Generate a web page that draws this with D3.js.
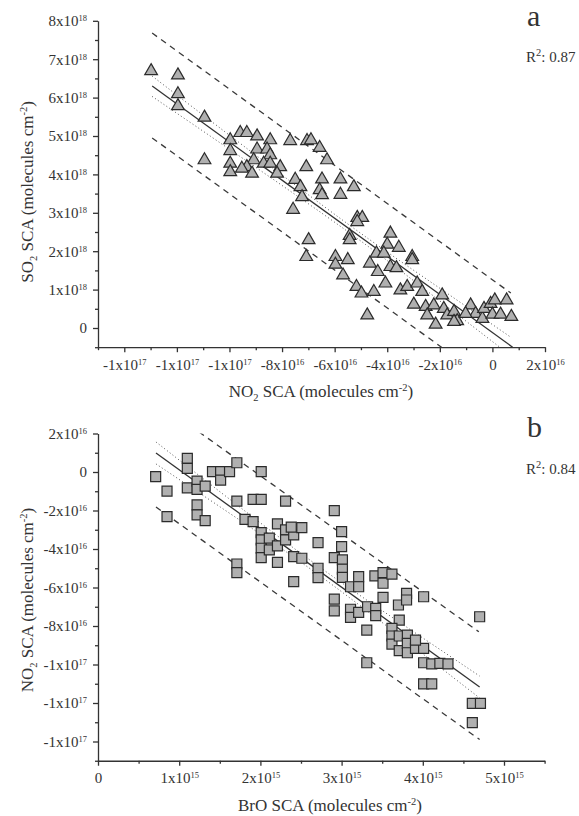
<!DOCTYPE html>
<html>
<head>
<meta charset="utf-8">
<script src="https://cdn.jsdelivr.net/npm/d3@7"></script>
<style>
  body { margin: 0; background: #fff; }
  svg { display: block; }
</style>
</head>
<body>
<svg id="chart"></svg>
<script>
// === SO2 / NO2 / BrO SCA scatter panels ===

const W = 579, H = 816;
const FONT = "'Liberation Serif', 'Times New Roman', serif";
const INK = "#333";

// --- Panel a: NO2 SCA (x, units 1e16) vs SO2 SCA (y, units 1e18) ---
const aNO2 = [
  -12.98, -11.96, -11.96, -11.96, -10.95, -10.95, -9.97, -9.97, -9.97, -9.97,
  -9.59, -9.34, -8.95, -8.45, -8.95, -8.57, -8.45, -9.08, -9.34, -9.53,
  -9.14, -8.70, -8.45, -8.07, -8.19, -7.69, -7.50, -7.30, -7.24, -7.58,
  -7.05, -7.08, -6.90, -6.57, -6.29, -6.48, -5.78, -5.27, -6.57, -6.48,
  -5.78, -5.14, -4.95, -5.14, -5.43, -5.43, -6.99, -7.08, -5.97, -5.97,
  -5.50, -5.68, -5.17, -4.98, -4.51, -4.76, -3.88, -4.00, -3.56, -4.41,
  -4.13, -4.66, -3.88, -3.65, -4.36, -3.05, -3.05, -4.07, -3.50, -3.24,
  -2.86, -2.67, -2.99, -2.54, -2.23, -1.91, -2.48, -2.16, -1.85, -1.72,
  -1.46, -1.34, -1.46, -0.83, -0.64, -0.38, -0.32, -0.07, 0.09, 0.00,
  0.31, 0.54, 0.72, -1.02
];
const aSO2 = [
  6.74, 6.63, 6.14, 5.83, 5.53, 4.42, 4.94, 4.66, 4.33, 4.11,
  5.13, 5.13, 5.04, 4.94, 4.70, 4.70, 4.55, 4.42, 4.24, 4.20,
  4.07, 4.33, 4.33, 4.24, 4.07, 4.92, 3.91, 3.72, 3.46, 3.13,
  4.92, 4.24, 4.94, 4.74, 4.42, 3.92, 3.92, 3.72, 3.64, 3.51,
  3.52, 2.92, 2.92, 2.81, 2.45, 2.34, 2.34, 1.90, 1.90, 1.70,
  1.82, 1.42, 1.12, 0.95, 0.99, 0.38, 2.51, 2.22, 2.14, 1.99,
  1.99, 1.73, 1.64, 1.61, 1.51, 1.90, 1.82, 1.21, 1.03, 1.12,
  1.21, 0.99, 0.66, 0.60, 0.64, 0.90, 0.38, 0.14, 0.55, 0.38,
  0.47, 0.23, 0.21, 0.64, 0.42, 0.29, 0.55, 0.68, 0.77, 0.40,
  0.40, 0.77, 0.34, 0.42
];
// fit line, 95% confidence (dotted) and prediction (dashed) bands, same units
const aFit = [[-12.94, 6.30], [0.77, -0.50]];
const aConfUpper = [[-12.94, 6.56], [-9.5, 4.76], [-5.5, 2.71], [-2.5, 1.27], [0.70, -0.24]];
const aConfLower = [[-12.94, 6.03], [-9.5, 4.42], [-5.5, 2.51], [-2.5, 0.97], [0.77, -0.76]];
const aPredUpper = [[-12.94, 7.68], [0.70, 0.91]];
const aPredLower = [[-12.94, 4.95], [-1.9, -0.52]];

const aXTicks = [-1.4e17, -1.2e17, -1e17, -8e16, -6e16, -4e16, -2e16, 0, 2e16];
const aXTickLabels = ["-1x10^17", "-1x10^17", "-1x10^17", "-8x10^16", "-6x10^16",
                      "-4x10^16", "-2x10^16", "0", "2x10^16"];
const aYTicks = [0, 1e18, 2e18, 3e18, 4e18, 5e18, 6e18, 7e18, 8e18];
const aYTickLabels = ["0", "1x10^18", "2x10^18", "3x10^18", "4x10^18",
                      "5x10^18", "6x10^18", "7x10^18", "8x10^18"];

// --- Panel b: BrO SCA (x, units 1e15) vs NO2 SCA (y, units 1e16) ---
const bBrO = [
  0.71, 0.85, 0.85, 1.10, 1.10, 1.10, 1.22, 1.22, 1.32, 1.22,
  1.22, 1.32, 1.41, 1.51, 1.51, 1.62, 1.71, 2.01, 1.71, 1.91,
  2.01, 2.31, 1.81, 1.91, 1.71, 1.71, 2.01, 2.01, 2.01, 2.01,
  2.11, 2.11, 2.21, 2.21, 2.21, 2.31, 2.31, 2.41, 2.41, 2.41,
  2.91, 2.51, 3.00, 2.71, 3.00, 2.91, 3.01, 3.01, 3.01, 2.71,
  2.71, 2.51, 3.11, 3.21, 3.21, 2.91, 2.91, 3.11, 3.11, 3.21,
  3.32, 3.42, 3.42, 3.31, 3.31, 3.41, 3.51, 3.51, 3.62, 3.51,
  3.70, 3.80, 3.80, 4.01, 4.70, 3.71, 3.62, 3.62, 3.62, 3.71,
  3.71, 3.81, 3.81, 3.81, 3.91, 4.01, 4.01, 4.11, 4.21, 4.31,
  4.01, 4.11, 4.61, 4.71, 4.61, 2.38, 3.91
];
const bNO2 = [
  -0.24, -0.99, -2.32, 0.71, 0.19, -0.82, -0.47, -0.90, -0.73, -1.71,
  -2.23, -2.53, 0.02, 0.02, -0.42, 0.02, 0.48, 0.02, -1.51, -1.42,
  -1.42, -1.51, -2.46, -2.58, -4.78, -5.23, -3.15, -3.53, -3.96, -4.45,
  -3.44, -4.05, -2.70, -3.84, -4.69, -3.01, -3.53, -3.27, -4.40, -5.70,
  -2.01, -2.89, -3.10, -3.67, -3.88, -4.45, -4.57, -5.05, -5.47, -5.00,
  -5.49, -4.48, -5.96, -5.44, -5.96, -6.60, -7.21, -7.13, -7.55, -7.29,
  -7.00, -7.08, -7.46, -8.21, -9.91, -5.40, -5.23, -5.78, -5.30, -6.51,
  -6.91, -6.30, -6.65, -6.48, -7.52, -7.69, -8.12, -8.52, -8.94, -8.52,
  -9.28, -8.47, -8.90, -9.39, -9.16, -9.16, -9.91, -9.97, -9.94, -9.97,
  -11.01, -11.01, -12.02, -12.02, -13.02, -2.86, -8.73
];
const bFit = [[0.714, 0.99], [4.70, -11.17]];
const bConfUpper = [[0.714, 1.56], [1.7, -1.67], [2.7, -4.85], [3.7, -7.77], [4.70, -10.6]];
const bConfLower = [[0.714, 0.42], [1.7, -2.37], [2.7, -5.29], [3.7, -8.47], [4.70, -11.74]];
const bPredUpper = [[1.244, 2.08], [4.69, -8.3]];
const bPredLower = [[0.714, -1.82], [4.70, -13.9]];

const bXTicks = [0, 1e15, 2e15, 3e15, 4e15, 5e15];
const bXTickLabels = ["0", "1x10^15", "2x10^15", "3x10^15", "4x10^15", "5x10^15"];
const bYTicks = [2e16, 0, -2e16, -4e16, -6e16, -8e16, -1e17, -1.2e17, -1.4e17];
const bYTickLabels = ["2x10^16", "0", "-2x10^16", "-4x10^16", "-6x10^16",
                      "-8x10^16", "-1x10^17", "-1x10^17", "-1x10^17"];

// --- helpers ---
const svg = d3.select("#chart").attr("width", W).attr("height", H)
  .style("font-family", FONT);
svg.append("rect").attr("width", W).attr("height", H).attr("fill", "#fff");
const defs = svg.append("defs");

// "8x10^18" -> "8x10" + superscript "18"
function sciLabel(textSel) {
  textSel.each(function() {
    const t = d3.select(this);
    const s = t.text();
    t.text(null);
    const parts = s.split("^");
    t.append("tspan").text(parts[0]);
    if (parts[1]) {
      t.append("tspan").attr("font-size", 8.5).attr("dy", "-5").text(parts[1]);
    }
  });
}

// parts: [text, "sub"|"sup"|undefined]
function richText(textSel, parts) {
  let shift = 0;
  parts.forEach(([txt, kind]) => {
    const target = kind === "sub" ? 4 : kind === "sup" ? -6 : 0;
    const ts = textSel.append("tspan").attr("dy", target - shift).text(txt);
    if (kind) ts.attr("font-size", 10.5);
    shift = target;
  });
}

function drawPanel(p) {
  const x = d3.scaleLinear().domain(p.xDomain).range([p.left, p.right]);
  const y = d3.scaleLinear().domain(p.yDomain).range([p.bottom, p.top]);
  const g = svg.append("g");

  const clipId = "clip-" + p.name;
  defs.append("clipPath").attr("id", clipId).append("rect")
    .attr("x", p.left).attr("y", p.top)
    .attr("width", p.right - p.left).attr("height", p.bottom - p.top);

  const line = d3.line()
    .x(d => x(d[0] * p.xUnit))
    .y(d => y(d[1] * p.yUnit));
  const curved = d3.line()
    .x(d => x(d[0] * p.xUnit))
    .y(d => y(d[1] * p.yUnit))
    .curve(d3.curveNatural);

  const lines = g.append("g").attr("clip-path", `url(#${clipId})`).attr("fill", "none");
  [p.predUpper, p.predLower].forEach(band => {
    lines.append("path").datum(band).attr("d", line)
      .attr("stroke", "#3a3a3a").attr("stroke-width", 1.3).attr("stroke-dasharray", "6,5");
  });
  [p.confUpper, p.confLower].forEach(band => {
    lines.append("path").datum(band).attr("d", curved)
      .attr("stroke", "#555").attr("stroke-width", 1).attr("stroke-dasharray", "1,2.5");
  });
  lines.append("path").datum(p.fit).attr("d", line)
    .attr("stroke", "#333").attr("stroke-width", 1.3);

  // points (triangles drawn about their centroid; nudge so the box centre sits on the value)
  const sym = d3.symbol().type(p.symbol).size(p.symbolSize);
  g.append("g").selectAll("path")
    .data(p.xs.map((v, i) => [v, p.ys[i]]))
    .join("path")
    .attr("transform", d => `translate(${x(d[0] * p.xUnit)},${y(d[1] * p.yUnit) + p.symbolDy})`)
    .attr("d", sym)
    .attr("fill", "#b0b0b0")
    .attr("stroke", "#2b2b2b")
    .attr("stroke-width", 1.2);

  // axes: major with labels, minor without
  const xAxis = g.append("g").attr("transform", `translate(0,${p.bottom})`)
    .call(d3.axisBottom(x).tickValues(p.xTicks).tickSize(5).tickSizeOuter(0)
      .tickPadding(7).tickFormat((d, i) => p.xLabels[i]));
  g.append("g").attr("transform", `translate(0,${p.bottom})`)
    .call(d3.axisBottom(x).tickValues(p.xMinor).tickSize(3).tickFormat(""))
    .call(s => s.select(".domain").remove());
  const yAxis = g.append("g").attr("transform", `translate(${p.left},0)`)
    .call(d3.axisLeft(y).tickValues(p.yTicks).tickSize(5).tickSizeOuter(0)
      .tickPadding(6).tickFormat((d, i) => p.yLabels[i]));
  g.append("g").attr("transform", `translate(${p.left},0)`)
    .call(d3.axisLeft(y).tickValues(p.yMinor).tickSize(3).tickFormat(""))
    .call(s => s.select(".domain").remove());

  g.selectAll(".domain, .tick line").attr("stroke", INK).attr("stroke-width", 1.3);
  [xAxis, yAxis].forEach(ax => {
    ax.selectAll(".tick text")
      .attr("font-family", FONT).attr("font-size", 15).attr("fill", INK)
      .call(sciLabel);
  });

  // axis titles
  richText(g.append("text")
    .attr("x", p.xTitleX).attr("y", p.bottom + 50)
    .attr("text-anchor", "middle").attr("font-size", 17).attr("fill", INK),
    p.xTitle);
  richText(g.append("text")
    .attr("transform", `translate(33,${p.yTitleY}) rotate(-90)`)
    .attr("text-anchor", "middle").attr("font-size", 17).attr("fill", INK),
    p.yTitle);

  // panel letter and R²
  g.append("text").attr("x", 527).attr("y", p.letterY)
    .attr("font-size", 30).attr("fill", INK).text(p.letter);
  richText(g.append("text").attr("x", 526).attr("y", p.r2Y)
    .attr("font-size", 15).attr("fill", INK),
    [["R"], ["2", "sup"], [": " + p.r2]]);
}

drawPanel({
  name: "a", left: 98, right: 545, top: 20.8, bottom: 347.2,
  xDomain: [-1.5e17, 2e16], yDomain: [-0.5e18, 8e18],
  xUnit: 1e16, yUnit: 1e18,
  xs: aNO2, ys: aSO2, symbol: d3.symbolTriangle, symbolSize: 70, symbolDy: 1.8,
  fit: aFit, confUpper: aConfUpper, confLower: aConfLower,
  predUpper: aPredUpper, predLower: aPredLower,
  xTicks: aXTicks, xLabels: aXTickLabels, xMinor: d3.range(-15, 2, 2).map(v => v * 1e16),
  yTicks: aYTicks, yLabels: aYTickLabels, yMinor: d3.range(-0.5, 8, 1).map(v => v * 1e18),
  xTitle: [["NO"], ["2", "sub"], [" SCA (molecules cm"], ["-2", "sup"], [")"]],
  yTitle: [["SO"], ["2", "sub"], [" SCA (molecules cm"], ["-2", "sup"], [")"]],
  xTitleX: 321, yTitleY: 192,
  letter: "a", letterY: 26, r2: "0.87", r2Y: 62
});

drawPanel({
  name: "b", left: 98, right: 544.6, top: 433.5, bottom: 760.75,
  xDomain: [0, 5.5e15], yDomain: [-1.5e17, 2e16],
  xUnit: 1e15, yUnit: 1e16,
  xs: bBrO, ys: bNO2, symbol: d3.symbolSquare, symbolSize: 100, symbolDy: 0,
  fit: bFit, confUpper: bConfUpper, confLower: bConfLower,
  predUpper: bPredUpper, predLower: bPredLower,
  xTicks: bXTicks, xLabels: bXTickLabels, xMinor: d3.range(0.5, 6, 1).map(v => v * 1e15),
  yTicks: bYTicks, yLabels: bYTickLabels, yMinor: d3.range(-15, 2, 2).map(v => v * 1e16),
  xTitle: [["BrO SCA (molecules cm"], ["-2", "sup"], [")"]],
  yTitle: [["NO"], ["2", "sub"], [" SCA (molecules cm"], ["-2", "sup"], [")"]],
  xTitleX: 330, yTitleY: 600,
  letter: "b", letterY: 437, r2: "0.84", r2Y: 474
});
</script>
</body>
</html>
